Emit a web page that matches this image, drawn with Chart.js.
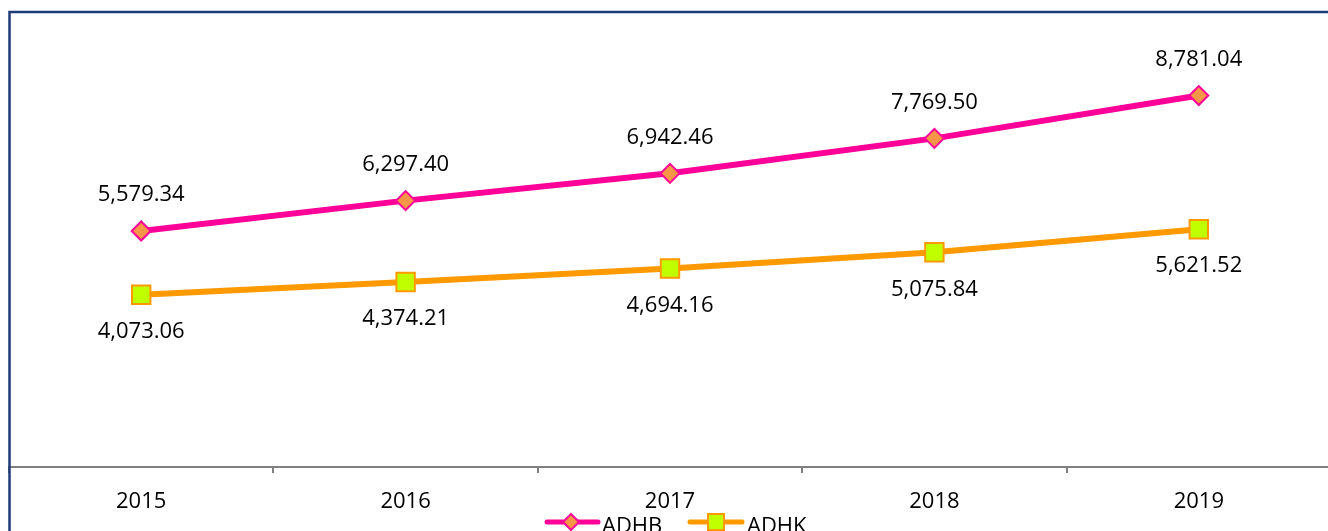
<!DOCTYPE html>
<html>
<head>
<meta charset="utf-8">
<script src="https://cdn.jsdelivr.net/npm/chart.js@4.4.1/dist/chart.umd.min.js"></script>
<style>
  html, body { margin: 0; padding: 0; background: #fff; overflow: hidden; }
  .wrap { position: relative; width: 1336px; height: 531px; }
  #chart { display: block; }
</style>
</head>
<body>
<div class="wrap"><canvas id="chart" width="1336" height="531"></canvas></div>
<script>
const years = ['2015', '2016', '2017', '2018', '2019'];
const adhb = [5579.34, 6297.40, 6942.46, 7769.50, 8781.04];
const adhk = [4073.06, 4374.21, 4694.16, 5075.84, 5621.52];
const seriesNames = ['ADHB', 'ADHK'];

const FONT = "'Open Sans', 'Liberation Sans', sans-serif";
const PINK = '#ff0099', DIAMOND = '#f79646';
const ORANGE = '#ff9900', LIME = '#bfff00';

function fmt(v) {
  const parts = v.toFixed(2).split('.');
  parts[0] = parts[0].replace(/\B(?=(\d{3})+(?!\d))/g, ',');
  return parts.join('.');
}

// white background + dark frame on the left/top
const framePlugin = {
  id: 'frame',
  beforeDraw(chart) {
    const ctx = chart.ctx;
    ctx.save();
    ctx.fillStyle = '#fff';
    ctx.fillRect(0, 0, chart.width, chart.height);
    ctx.restore();
  },
  afterDraw(chart) {
    const ctx = chart.ctx;
    ctx.save();
    ctx.strokeStyle = '#1f3b78';
    ctx.lineWidth = 2.5;
    ctx.strokeRect(9.5, 12, 2000, 1000);
    ctx.restore();
  }
};

// value labels: above for ADHB, below for ADHK
const valueLabels = {
  id: 'valueLabels',
  afterDatasetsDraw(chart) {
    const ctx = chart.ctx;
    ctx.save();
    ctx.font = '22px ' + FONT;
    ctx.fillStyle = '#000';
    ctx.textAlign = 'center';
    ctx.textBaseline = 'middle';
    chart.data.datasets.forEach((ds, i) => {
      const meta = chart.getDatasetMeta(i);
      meta.data.forEach((pt, j) => {
        const dy = i === 0 ? -36 : 37;
        ctx.fillText(fmt(ds.data[j]), pt.x, pt.y + dy);
      });
    });
    ctx.restore();
  }
};

// legend with line + marker like the original
const lineLegend = {
  id: 'lineLegend',
  afterDraw(chart) {
    const ctx = chart.ctx;
    const y = 522;
    ctx.save();
    // ADHB
    ctx.strokeStyle = PINK;
    ctx.lineWidth = 5;
    ctx.lineCap = 'round';
    ctx.beginPath(); ctx.moveTo(547, y); ctx.lineTo(598, y); ctx.stroke();
    ctx.beginPath();
    ctx.moveTo(571, y - 8); ctx.lineTo(579, y); ctx.lineTo(571, y + 8); ctx.lineTo(563, y);
    ctx.closePath();
    ctx.fillStyle = DIAMOND; ctx.fill();
    ctx.lineWidth = 2; ctx.stroke();
    // ADHK
    ctx.strokeStyle = ORANGE;
    ctx.lineWidth = 5;
    ctx.beginPath(); ctx.moveTo(690, y); ctx.lineTo(742, y); ctx.stroke();
    ctx.fillStyle = LIME;
    ctx.fillRect(708, y - 8, 16, 16);
    ctx.lineWidth = 2;
    ctx.strokeRect(708, y - 8, 16, 16);
    ctx.fillStyle = '#000';
    ctx.font = '22px ' + FONT;
    ctx.textBaseline = 'alphabetic';
    ctx.textAlign = 'left';
    ctx.fillText(seriesNames[0], 602, 533);
    ctx.fillText(seriesNames[1], 747, 533);
    ctx.restore();
  }
};

new Chart(document.getElementById('chart'), {
  type: 'line',
  data: {
    labels: years,
    datasets: [
      {
        label: seriesNames[0],
        data: adhb,
        borderColor: PINK,
        borderWidth: 6,
        pointStyle: 'rectRot',
        pointRadius: 9.5,
        pointBackgroundColor: DIAMOND,
        pointBorderColor: PINK,
        pointBorderWidth: 2,
        tension: 0
      },
      {
        label: seriesNames[1],
        data: adhk,
        borderColor: ORANGE,
        borderWidth: 6,
        pointStyle: 'rect',
        pointRadius: 13,
        pointBackgroundColor: LIME,
        pointBorderColor: ORANGE,
        pointBorderWidth: 2,
        tension: 0
      }
    ]
  },
  options: {
    responsive: false,
    animation: false,
    layout: { autoPadding: false, padding: { top: 44, left: 9, right: 5, bottom: 0 } },
    scales: {
      x: {
        offset: true,
        grid: {
          display: true,
          offset: true,
          drawOnChartArea: false,
          drawTicks: true,
          tickLength: 6,
          color: '#808080',
          lineWidth: 2
        },
        border: { display: true, color: '#808080', width: 2 },
        ticks: {
          color: '#000',
          font: { family: FONT, size: 22 },
          padding: 16,
          maxRotation: 0
        },
        afterFit: function (scale) {
          scale.height = 64;
          scale.paddingLeft = 0;
          scale.paddingRight = 0;
        }
      },
      y: {
        display: false,
        min: 0,
        max: 10000
      }
    },
    plugins: {
      legend: { display: false },
      tooltip: { enabled: false }
    }
  },
  plugins: [framePlugin, valueLabels, lineLegend]
});
</script>
</body>
</html>
